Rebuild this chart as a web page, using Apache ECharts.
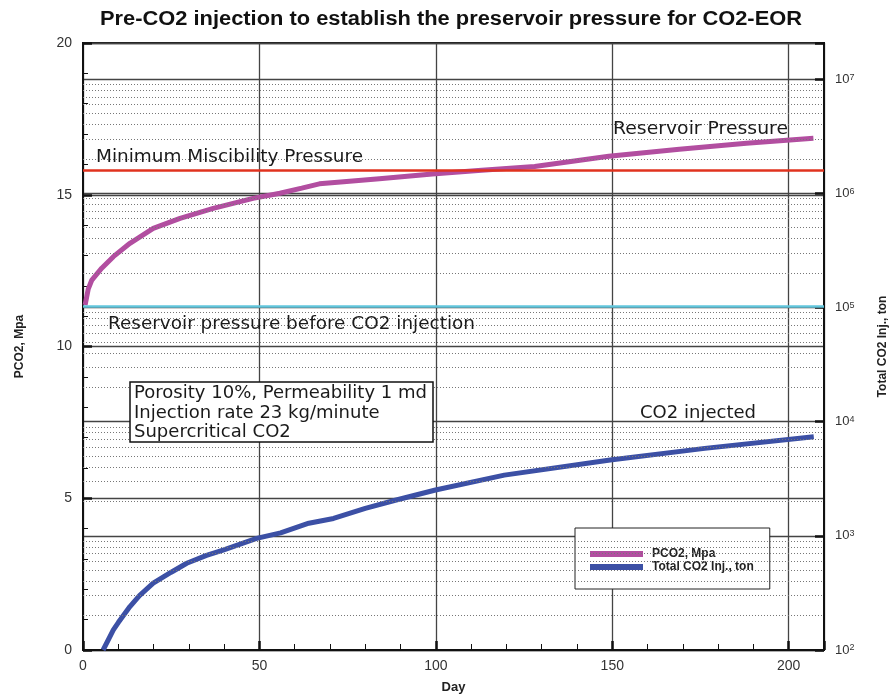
<!DOCTYPE html>
<html>
<head>
<meta charset="utf-8">
<script src="https://cdn.jsdelivr.net/npm/echarts@6/dist/echarts.min.js"></script>
<style>
html,body{margin:0;padding:0;background:#fff;}
#chart{width:894px;height:696px;}
</style>
</head>
<body>
<div id="chart"></div>
<script>
// ---- data ----
const titleText = 'Pre-CO2 injection to establish the preservoir pressure for CO2-EOR';
const pDays = [0.6, 1.5, 2.5, 5.3, 8.6, 13.3, 19.9, 27.5, 36.9, 48.2, 55.8, 62, 67, 73, 84, 99, 112, 128, 149, 169, 188, 207];
const pco2 = [11.37, 11.9, 12.19, 12.58, 12.96, 13.40, 13.89, 14.22, 14.55, 14.88, 15.05, 15.22, 15.36, 15.42, 15.53, 15.68, 15.80, 15.93, 16.27, 16.50, 16.70, 16.86];
const cDays = [5.7, 8.6, 10, 13.3, 16, 19.9, 25, 29.4, 35, 39.7, 49.2, 56, 64, 71, 80, 88.5, 99.9, 119.4, 149.4, 176.2, 207.1];
const co2Total = [100, 150, 174, 240, 300, 385, 480, 575, 675, 750, 950, 1060, 1290, 1420, 1740, 2050, 2520, 3400, 4610, 5830, 7380];
const mmpLevel = 15.8;          // Minimum Miscibility Pressure
const initialPressure = 11.33;  // Reservoir pressure before CO2 injection
const leftTicks = [0, 5, 10, 15, 20];
const dayTicks = [0, 50, 100, 150, 200];
const logDecades = [2, 3, 4, 5, 6, 7];
const minorMultipliers = [2, 3, 4, 5, 6, 7, 8, 9];
const seriesNames = ['PCO2, Mpa', 'Total CO2 Inj., ton'];
const notes = ['Porosity 10%, Permeability 1 md', 'Injection rate 23 kg/minute', 'Supercritical CO2'];

// minor log grid values (2..9 x 10^n) for decades below 10^7
const minorLog = [];
logDecades.slice(0, -1).forEach(function (d) {
  minorMultipliers.forEach(function (m) { minorLog.push(m * Math.pow(10, d)); });
});

const FONT = '"Liberation Sans", Arial, sans-serif';
const ANN = '"DejaVu Sans", Verdana, sans-serif';
const ANNFONT = '17px ' + ANN;
const magenta = '#b24ea0';
const blue = '#3c50a5';

// text width measurement for horizontal fitting
const cv = document.createElement('canvas').getContext('2d');
function fitScale(text, font, target) { cv.font = font; return target / cv.measureText(text).width; }
const titleFont = 'bold 20px "Liberation Sans"';
const titleScale = fitScale(titleText, titleFont, 702);

function annot(text, x, y, targetW) {
  return {type: 'text', x: x, y: y, z: 10, scaleX: fitScale(text, ANNFONT, targetW),
    style: {text: text, textVerticalAlign: 'middle', font: ANNFONT, fill: '#1a1a1a'}};
}

const chart = echarts.init(document.getElementById('chart'), null, {renderer: 'canvas'});
const option = {
  animation: false,
  backgroundColor: '#fff',
  grid: {left: 83, right: 70, top: 43, bottom: 46, outerBoundsMode: 'none', containLabel: false,
    show: true, borderColor: '#111', borderWidth: 2, backgroundColor: 'transparent'},
  legend: {
    data: seriesNames,
    orient: 'vertical',
    left: 575, top: 528,
    padding: [20, 16, 16, 15],
    itemGap: 1,
    itemWidth: 53, itemHeight: 6,
    icon: 'rect',
    backgroundColor: '#fff',
    borderColor: '#222', borderWidth: 1,
    textStyle: {fontFamily: FONT, fontWeight: 'bold', fontSize: 12, color: '#222', padding: [0, 0, 0, 4]}
  },
  xAxis: [{
    type: 'value', min: 0, max: 210, interval: 50,
    axisLine: {show: true, onZero: false, lineStyle: {color: '#111', width: 2}},
    axisTick: {inside: true, length: 9, lineStyle: {color: '#111', width: 2.5}},
    axisLabel: {margin: 9, fontFamily: FONT, fontSize: 14, color: '#333',
      formatter: function (v) { return dayTicks.indexOf(v) >= 0 ? String(v) : ''; }},
    splitLine: {show: true, lineStyle: {color: '#444', width: 1.3}},
    name: 'Day', nameLocation: 'middle', nameGap: 31,
    nameTextStyle: {fontFamily: FONT, fontWeight: 'bold', fontSize: 13, color: '#222'}
  }, {
    type: 'value', min: 0, max: 210, interval: 10, position: 'bottom',
    axisLine: {show: false, onZero: false}, axisLabel: {show: false}, splitLine: {show: false},
    axisTick: {inside: true, length: 6, lineStyle: {color: '#111', width: 1}}
  }],
  yAxis: [{
    type: 'value', min: 0, max: 20, interval: 5, position: 'left',
    axisLine: {show: true, onZero: false, lineStyle: {color: '#111', width: 2}},
    axisTick: {inside: true, length: 9, lineStyle: {color: '#111', width: 2.5}},
    minorTick: {show: true, splitNumber: 5, length: 5, lineStyle: {color: '#111', width: 1}},
    axisLabel: {margin: 11, fontFamily: FONT, fontSize: 14, color: '#333',
      formatter: function (v) { return leftTicks.indexOf(v) >= 0 ? String(v) : ''; }},
    splitLine: {show: true, lineStyle: {color: '#444', width: 1.3}},
    name: 'PCO2, Mpa', nameLocation: 'middle', nameGap: 57, nameRotate: 90,
    nameTextStyle: {fontFamily: FONT, fontWeight: 'bold', fontSize: 12, color: '#222'}
  }, {
    type: 'log', logBase: 10, min: 100, max: 2.07e7, position: 'right',
    axisLine: {show: true, onZero: false, lineStyle: {color: '#111', width: 2}},
    axisTick: {inside: true, length: 9, lineStyle: {color: '#111', width: 2.5}},
    axisLabel: {margin: 11, fontFamily: FONT, fontSize: 13, color: '#333',
      formatter: function (v) {
        const e = Math.round(Math.log10(v));
        if (logDecades.indexOf(e) < 0 || Math.abs(Math.pow(10, e) - v) / v > 0.01) return '';
        return '10{s|' + e + '}';
      },
      rich: {s: {fontSize: 9, verticalAlign: 'top', lineHeight: 10, fontFamily: FONT, color: '#333'}}
    },
    splitLine: {show: true, lineStyle: {color: '#444', width: 1.3}},
    name: 'Total CO2 Inj., ton', nameLocation: 'middle', nameGap: 53, nameRotate: 90,
    nameTextStyle: {fontFamily: FONT, fontWeight: 'bold', fontSize: 12, color: '#222'}
  }],
  series: [{
    name: 'minorGrid', type: 'line', xAxisIndex: 0, yAxisIndex: 1, data: [], z: 1,
    markLine: {silent: true, symbol: ['none', 'none'], label: {show: false}, animation: false,
      lineStyle: {color: '#777', width: 1.2, type: [1, 2]},
      data: minorLog.map(function (v) { return {yAxis: v}; })}
  }, {
    name: seriesNames[0], type: 'line', xAxisIndex: 0, yAxisIndex: 0, z: 3,
    symbol: 'none', smooth: false,
    data: pDays.map(function (d, i) { return [d, pco2[i]]; }),
    lineStyle: {color: magenta, width: 5}, itemStyle: {color: magenta},
    markLine: {silent: true, symbol: ['none', 'none'], label: {show: false}, animation: false,
      data: [
        {yAxis: mmpLevel, lineStyle: {color: '#e0321e', width: 2.5, type: 'solid'}},
        {yAxis: initialPressure, lineStyle: {color: '#62c6dc', width: 2.5, type: 'solid'}}
      ]}
  }, {
    name: seriesNames[1], type: 'line', xAxisIndex: 0, yAxisIndex: 1, z: 3,
    symbol: 'none',
    data: cDays.map(function (d, i) { return [d, co2Total[i]]; }),
    lineStyle: {color: blue, width: 5}, itemStyle: {color: blue}
  }],
  graphic: [
    {type: 'text', x: 451, y: 19, scaleX: titleScale, z: 10,
      style: {text: titleText, textAlign: 'center', textVerticalAlign: 'middle', font: titleFont, fill: '#111'}},
    annot('Minimum Miscibility Pressure', 96, 158, 267),
    annot('Reservoir Pressure', 613, 130, 175),
    annot('Reservoir pressure before CO2 injection', 108, 325, 367),
    annot('CO2 injected', 640, 414, 116),
    {type: 'rect', x: 130, y: 382, z: 10, shape: {width: 303, height: 60},
      style: {fill: '#fff', stroke: '#111', lineWidth: 1.5}},
    {type: 'text', x: 134, y: 384, z: 11, scaleX: fitScale(notes[0], ANNFONT, 293),
      style: {text: notes.join('\n'), textVerticalAlign: 'top', font: ANNFONT, lineHeight: 19.5, fill: '#1a1a1a'}}
  ]
};
chart.setOption(option);
</script>
</body>
</html>
